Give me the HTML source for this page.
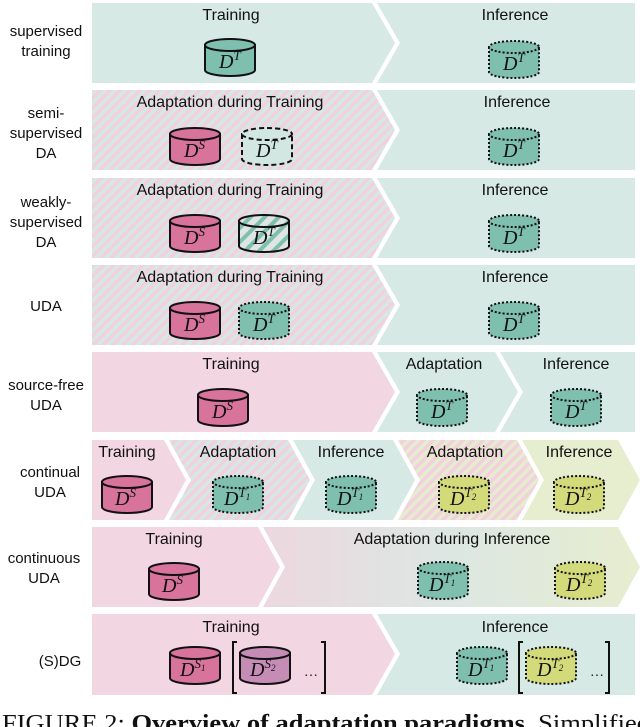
<!DOCTYPE html>
<html><head><meta charset="utf-8"><style>
html,body{margin:0;padding:0;background:#fff;width:640px;height:727px;overflow:hidden}
svg{display:block}
.lbl{font-family:"Liberation Sans",sans-serif;font-size:15px;fill:#111;text-anchor:middle}
.hd{font-family:"Liberation Sans",sans-serif;font-size:16px;fill:#111;text-anchor:middle}
.m{font-family:"Liberation Serif",serif;font-style:italic;font-size:20px;fill:#111}
.m tspan.s{font-size:13px}
.m tspan.b{font-size:9px}
</style></head><body>
<svg width="640" height="727" viewBox="0 0 640 727" xmlns="http://www.w3.org/2000/svg">
<defs>
<pattern id="hpt" width="7" height="7" patternUnits="userSpaceOnUse" patternTransform="rotate(45)">
<rect width="7" height="7" fill="#d5e8e3"/><rect width="3.5" height="7" fill="#f2d0dd"/></pattern>
<pattern id="hpy" width="7" height="7" patternUnits="userSpaceOnUse" patternTransform="rotate(45)">
<rect width="7" height="7" fill="#e6ecce"/><rect width="3.5" height="7" fill="#f2d0dd"/></pattern>
<pattern id="hcyl" width="10" height="10" patternUnits="userSpaceOnUse" patternTransform="rotate(45)">
<rect width="10" height="10" fill="#dfe5e2"/><rect width="4" height="10" fill="#7fbfae"/></pattern>
<linearGradient id="gr" x1="0" x2="1" y1="0" y2="0">
<stop offset="0" stop-color="#ecd8e0"/><stop offset="0.5" stop-color="#dce7e3"/><stop offset="1" stop-color="#e7edcf"/></linearGradient>
<g id="cT"><path d="M-25,6 V31 A25,6 0 0 0 25,31 V6 Z" fill="#7fbfae" stroke="#111" stroke-width="2"/><ellipse cx="0" cy="6" rx="25" ry="6" fill="#7fbfae" stroke="#111" stroke-width="2"/></g>
<g id="cTd"><path d="M-25,6 V31 A25,6 0 0 0 25,31 V6 Z" fill="#7fbfae" stroke="#111" stroke-width="2" stroke-dasharray="2 2"/><ellipse cx="0" cy="6" rx="25" ry="6" fill="#7fbfae" stroke="#111" stroke-width="2" stroke-dasharray="2 2"/></g>
<g id="cTdash"><path d="M-25,6 V31 A25,6 0 0 0 25,31 V6 Z" fill="#d3e7e2" stroke="#111" stroke-width="2" stroke-dasharray="5 3"/><ellipse cx="0" cy="6" rx="25" ry="6" fill="#d3e7e2" stroke="#111" stroke-width="2" stroke-dasharray="5 3"/></g>
<g id="cTh"><path d="M-25,6 V31 A25,6 0 0 0 25,31 V6 Z" fill="url(#hcyl)" stroke="#111" stroke-width="2"/><ellipse cx="0" cy="6" rx="25" ry="6" fill="url(#hcyl)" stroke="#111" stroke-width="2"/></g>
<g id="cS"><path d="M-25,6 V31 A25,6 0 0 0 25,31 V6 Z" fill="#d8739b" stroke="#111" stroke-width="2"/><ellipse cx="0" cy="6" rx="25" ry="6" fill="#d8739b" stroke="#111" stroke-width="2"/></g>
<g id="cS2"><path d="M-25,6 V31 A25,6 0 0 0 25,31 V6 Z" fill="#c58db6" stroke="#111" stroke-width="2"/><ellipse cx="0" cy="6" rx="25" ry="6" fill="#c58db6" stroke="#111" stroke-width="2"/></g>
<g id="cY"><path d="M-25,6 V31 A25,6 0 0 0 25,31 V6 Z" fill="#d3da7a" stroke="#111" stroke-width="2" stroke-dasharray="2 2"/><ellipse cx="0" cy="6" rx="25" ry="6" fill="#d3da7a" stroke="#111" stroke-width="2" stroke-dasharray="2 2"/></g>
</defs>

<polygon points="92,3 372,3 395,43 372,83 92,83" fill="#d7e9e5"/>
<polygon points="377,3 635,3 635,83 377,83 400,43" fill="#d7e9e5"/>
<polygon points="92,90 372,90 395,130 372,170 92,170" fill="url(#hpt)"/>
<polygon points="377,90 635,90 635,170 377,170 400,130" fill="#d7e9e5"/>
<polygon points="92,178 372,178 395,218 372,258 92,258" fill="url(#hpt)"/>
<polygon points="377,178 635,178 635,258 377,258 400,218" fill="#d7e9e5"/>
<polygon points="92,265 372,265 395,305 372,345 92,345" fill="url(#hpt)"/>
<polygon points="377,265 635,265 635,345 377,345 400,305" fill="#d7e9e5"/>
<polygon points="92,352 372,352 395,392 372,432 92,432" fill="#f2d7e2"/>
<polygon points="377,352 495,352 518,392 495,432 377,432 400,392" fill="#d7e9e5"/>
<polygon points="500,352 635,352 635,432 500,432 523,392" fill="#d7e9e5"/>
<polygon points="92,440 164,440 186,480 164,520 92,520" fill="#f2d7e2"/>
<polygon points="169,440 288,440 310,480 288,520 169,520 191,480" fill="url(#hpt)"/>
<polygon points="293,440 393,440 415,480 393,520 293,520 315,480" fill="#d7e9e5"/>
<polygon points="398,440 517,440 539,480 517,520 398,520 420,480" fill="url(#hpy)"/>
<polygon points="522,440 618,440 640,480 618,520 522,520 544,480" fill="#e7edcf"/>
<polygon points="92,527 258,527 280,567 258,607 92,607" fill="#f2d7e2"/>
<polygon points="263,527 618,527 640,567 618,607 263,607 285,567" fill="url(#gr)"/>
<polygon points="92,614 372,614 395,654 372,695 92,695" fill="#f2d7e2"/>
<polygon points="377,614 635,614 635,695 377,695 400,654" fill="#d7e9e5"/>

<text class="lbl" x="46" y="36">supervised</text><text class="lbl" x="46" y="56">training</text>
<text class="lbl" x="46" y="118">semi-</text><text class="lbl" x="46" y="138">supervised</text><text class="lbl" x="46" y="158">DA</text>
<text class="lbl" x="46" y="207">weakly-</text><text class="lbl" x="46" y="227">supervised</text><text class="lbl" x="46" y="247">DA</text>
<text class="lbl" x="46" y="311">UDA</text>
<text class="lbl" x="46" y="390">source-free</text><text class="lbl" x="46" y="410">UDA</text>
<text class="lbl" x="50" y="477">continual</text><text class="lbl" x="50" y="497">UDA</text>
<text class="lbl" x="44" y="563">continuous</text><text class="lbl" x="44" y="583">UDA</text>
<text class="lbl" x="60" y="666">(S)DG</text>

<text class="hd" x="231" y="20">Training</text><text class="hd" x="515" y="20">Inference</text>
<text class="hd" x="230" y="107">Adaptation during Training</text><text class="hd" x="517" y="107">Inference</text>
<text class="hd" x="230" y="195">Adaptation during Training</text><text class="hd" x="515" y="195">Inference</text>
<text class="hd" x="230" y="282">Adaptation during Training</text><text class="hd" x="515" y="282">Inference</text>
<text class="hd" x="231" y="369">Training</text><text class="hd" x="444" y="369">Adaptation</text><text class="hd" x="576" y="369">Inference</text>
<text class="hd" x="127" y="457">Training</text><text class="hd" x="238" y="457">Adaptation</text><text class="hd" x="351" y="457">Inference</text><text class="hd" x="465" y="457">Adaptation</text><text class="hd" x="579" y="457">Inference</text>
<text class="hd" x="174" y="544">Training</text><text class="hd" x="452" y="544">Adaptation during Inference</text>
<text class="hd" x="231" y="632">Training</text><text class="hd" x="515" y="632">Inference</text>

<use href="#cT" x="230" y="39"/><text class="m" x="219" y="68">D<tspan class="s" dy="-8">T</tspan></text>
<use href="#cTd" x="514" y="41"/><text class="m" x="503" y="70">D<tspan class="s" dy="-8">T</tspan></text>

<use href="#cS" x="195" y="128"/><text class="m" x="184" y="157">D<tspan class="s" dy="-8">S</tspan></text>
<use href="#cTdash" x="267" y="128"/><text class="m" x="256" y="157">D<tspan class="s" dy="-8">T</tspan></text>
<use href="#cTd" x="514" y="128"/><text class="m" x="503" y="157">D<tspan class="s" dy="-8">T</tspan></text>

<use href="#cS" x="195" y="215"/><text class="m" x="184" y="244">D<tspan class="s" dy="-8">S</tspan></text>
<use href="#cTh" x="264" y="215"/><text class="m" x="253" y="244">D<tspan class="s" dy="-8">T</tspan></text>
<use href="#cTd" x="514" y="215"/><text class="m" x="503" y="244">D<tspan class="s" dy="-8">T</tspan></text>

<use href="#cS" x="195" y="302"/><text class="m" x="184" y="331">D<tspan class="s" dy="-8">S</tspan></text>
<use href="#cTd" x="264" y="302"/><text class="m" x="253" y="331">D<tspan class="s" dy="-8">T</tspan></text>
<use href="#cTd" x="514" y="302"/><text class="m" x="503" y="331">D<tspan class="s" dy="-8">T</tspan></text>

<use href="#cS" x="223" y="389"/><text class="m" x="212" y="418">D<tspan class="s" dy="-8">S</tspan></text>
<use href="#cTd" x="442" y="389"/><text class="m" x="431" y="418">D<tspan class="s" dy="-8">T</tspan></text>
<use href="#cTd" x="576" y="389"/><text class="m" x="565" y="418">D<tspan class="s" dy="-8">T</tspan></text>

<use href="#cS" x="127" y="476"/><text class="m" x="115" y="505">D<tspan class="s" dy="-8">S</tspan></text>
<use href="#cTd" x="238" y="476"/><text class="m" x="224" y="505">D<tspan class="s" dy="-8">T</tspan><tspan class="b" dy="3">1</tspan></text>
<use href="#cTd" x="351" y="476"/><text class="m" x="337" y="505">D<tspan class="s" dy="-8">T</tspan><tspan class="b" dy="3">1</tspan></text>
<use href="#cY" x="464" y="476"/><text class="m" x="450" y="505">D<tspan class="s" dy="-8">T</tspan><tspan class="b" dy="3">2</tspan></text>
<use href="#cY" x="579" y="476"/><text class="m" x="565" y="505">D<tspan class="s" dy="-8">T</tspan><tspan class="b" dy="3">2</tspan></text>

<use href="#cS" x="174" y="563"/><text class="m" x="162" y="592">D<tspan class="s" dy="-8">S</tspan></text>
<use href="#cTd" x="443" y="562"/><text class="m" x="429" y="591">D<tspan class="s" dy="-8">T</tspan><tspan class="b" dy="3">1</tspan></text>
<use href="#cY" x="580" y="562"/><text class="m" x="566" y="591">D<tspan class="s" dy="-8">T</tspan><tspan class="b" dy="3">2</tspan></text>

<use href="#cS" x="195" y="647"/><text class="m" x="180" y="676">D<tspan class="s" dy="-8">S</tspan><tspan class="b" dy="3">1</tspan></text>
<use href="#cS2" x="265" y="647"/><text class="m" x="250" y="676">D<tspan class="s" dy="-8">S</tspan><tspan class="b" dy="3">2</tspan></text>
<path d="M237,642 H233 V693 H237 M321,642 H325 V693 H321" fill="none" stroke="#111" stroke-width="2"/>
<text x="311" y="676" font-family="Liberation Serif,serif" font-size="14" text-anchor="middle" fill="#111">…</text>
<use href="#cTd" x="482" y="647"/><text class="m" x="468" y="676">D<tspan class="s" dy="-8">T</tspan><tspan class="b" dy="3">1</tspan></text>
<use href="#cY" x="551" y="647"/><text class="m" x="537" y="676">D<tspan class="s" dy="-8">T</tspan><tspan class="b" dy="3">2</tspan></text>
<path d="M523,642 H519 V693 H523 M605,642 H609 V693 H605" fill="none" stroke="#111" stroke-width="2"/>
<text x="597" y="676" font-family="Liberation Serif,serif" font-size="14" text-anchor="middle" fill="#111">…</text>

<text x="2" y="731" font-family="Liberation Serif,serif" font-size="24" fill="#111" textLength="648" lengthAdjust="spacingAndGlyphs">FIGURE 2: <tspan font-weight="bold">Overview of adaptation paradigms.</tspan> Simplified</text>
</svg>
</body></html>
